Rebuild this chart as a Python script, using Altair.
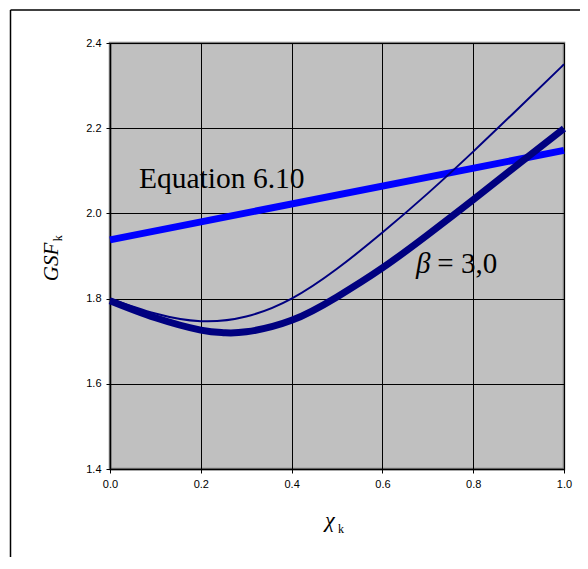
import altair as alt
import pandas as pd

# ---- data ----
thick_x = [0.0, 0.1, 0.2, 0.25, 0.3, 0.4, 0.5, 0.6, 0.7, 0.8, 0.9, 1.0]
thick_y = [1.795, 1.755, 1.726, 1.720, 1.722, 1.749, 1.804, 1.872, 1.950, 2.032, 2.116, 2.199]

thin_x = [0.0, 0.1, 0.2, 0.3, 0.4, 0.5, 0.6, 0.7, 0.8, 0.9, 1.0]
thin_y = [1.800, 1.765, 1.747, 1.758, 1.800, 1.870, 1.955, 2.047, 2.145, 2.247, 2.350]

eq_x = [0.0, 1.0]
eq_y = [1.938, 2.148]

x_ticks = [0.0, 0.2, 0.4, 0.6, 0.8, 1.0]
y_ticks = [1.4, 1.6, 1.8, 2.0, 2.2, 2.4]

# ---- scales / axes ----
xs = alt.Scale(domain=[0, 1], nice=False, zero=False)
ys = alt.Scale(domain=[1.4, 2.4], nice=False, zero=False)

ax_common = dict(format=".1f", title=None, grid=True,
                 gridColor="#000000", gridWidth=1, domainColor="#000000",
                 domainWidth=1.5, tickColor="#000000", tickSize=4,
                 labelFont="Liberation Sans", labelFontSize=11,
                 labelColor="#000000", labelPadding=5, labelFlush=False,
                 labelOverlap=False)
ax_x = alt.Axis(values=x_ticks, **ax_common)
ax_y = alt.Axis(values=y_ticks, **ax_common)

X = alt.X("x:Q", scale=xs, axis=ax_x)
Y = alt.Y("y:Q", scale=ys, axis=ax_y)

eq_df = pd.DataFrame({"x": eq_x, "y": eq_y})
thin_df = pd.DataFrame({"x": thin_x, "y": thin_y})
thick_df = pd.DataFrame({"x": thick_x, "y": thick_y})

eq_line = alt.Chart(eq_df).mark_line(color="#0000FF", strokeWidth=7).encode(x=X, y=Y)
thin_line = alt.Chart(thin_df).mark_line(color="#000080", strokeWidth=2,
                                         interpolate="natural").encode(x=X, y=Y)
thick_line = alt.Chart(thick_df).mark_line(color="#000080", strokeWidth=7,
                                           interpolate="natural").encode(x=X, y=Y)

def label(x, y, t, size, italic=False, angle=0, align="left"):
    df = pd.DataFrame({"x": [x], "y": [y], "t": [t]})
    kw = dict(align=align, baseline="alphabetic", font="Liberation Serif",
              fontSize=size, color="#000000")
    if italic:
        kw["fontStyle"] = "italic"
    if angle:
        kw["angle"] = angle
    return alt.Chart(df).mark_text(**kw).encode(x=X, y=Y, text="t:N")

texts = [
    label(0.0639, 2.0585, "Equation 6.10", 29.5),
    label(0.674, 1.859, "β", 29, italic=True),
    label(0.721, 1.859, "= 3,0", 29),
    label(-0.1139, 1.886, "GSF", 21, italic=True, angle=270, align="center"),
    label(-0.1068, 1.9347, "k", 12, angle=270),
    label(0.4736, 1.2638, "χ", 22, italic=True),
    label(0.5022, 1.2509, "k", 12),
]

# outer frame (decoration)
frame_top = alt.Chart(pd.DataFrame({"a": [0]})).mark_rule(color="#000000", strokeWidth=1.5).encode(
    x=alt.value(-99.5), x2=alt.value(480), y=alt.value(-33))
frame_left = alt.Chart(pd.DataFrame({"a": [0]})).mark_rule(color="#000000", strokeWidth=1.5).encode(
    x=alt.value(-99.5), y=alt.value(-33), y2=alt.value(530))

chart = alt.layer(eq_line, thin_line, thick_line, *texts, frame_top, frame_left).properties(
    width=454, height=426,
    padding={"left": 102, "top": 35, "right": 16, "bottom": 88},
    autosize=alt.AutoSizeParams(type="none"),
    background="#FFFFFF",
).configure_view(fill="#C0C0C0", stroke="#808080", strokeWidth=2.5)

chart.save("out.html", embed_options={"renderer": "svg", "actions": False})
